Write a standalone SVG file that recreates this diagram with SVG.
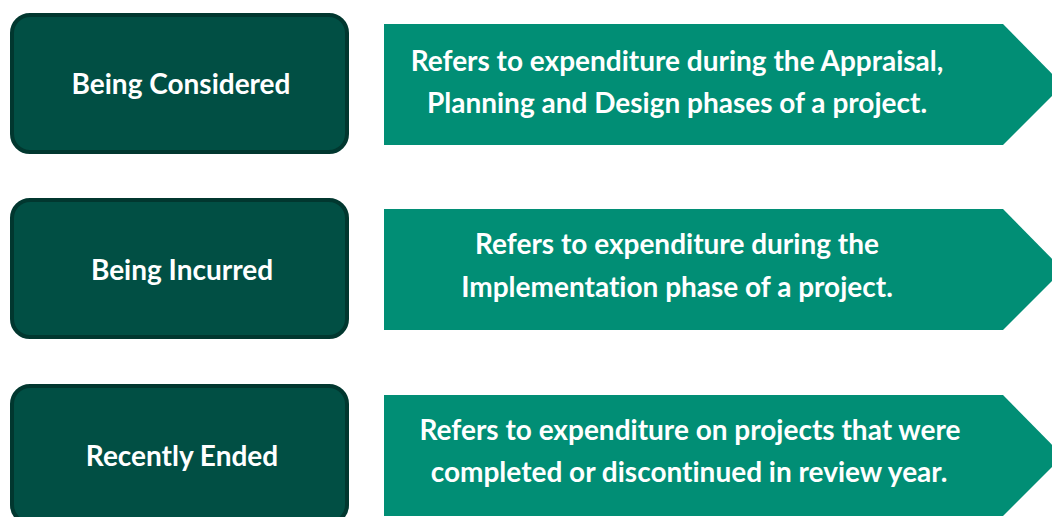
<svg xmlns="http://www.w3.org/2000/svg" width="1052" height="517" viewBox="0 0 1052 517">
<style>
.box{fill:#014f44;stroke:#01372f;stroke-width:4}
.arr{fill:#018e75}
.t{font-family:Lato,"Open Sans",sans-serif;font-weight:bold;font-size:28px;fill:#ffffff;text-anchor:middle;font-variant-ligatures:none}
</style>
<rect width="1052" height="517" fill="#ffffff"/>
<g id="n1">
<rect class="box" x="12" y="15" width="335" height="137" rx="18"/>
<text class="t" x="181" y="94">Being Considered</text>
</g>
<g id="d1">
<polygon class="arr" points="384,24 1003,24 1063,85 1003,145 384,145"/>
<text class="t" x="677" y="71">Refers to expenditure during the Appraisal,</text>
<text class="t" x="677" y="113">Planning and Design phases of a project.</text>
</g>
<g id="n2">
<rect class="box" x="12" y="200" width="335" height="137" rx="18"/>
<text class="t" x="182" y="280">Being Incurred</text>
</g>
<g id="d2">
<polygon class="arr" points="384,209 1003,209 1063,270 1003,330 384,330"/>
<text class="t" x="677" y="254">Refers to expenditure during the</text>
<text class="t" x="677" y="297">Implementation phase of a project.</text>
</g>
<g id="n3">
<rect class="box" x="12" y="386" width="335" height="137" rx="18"/>
<text class="t" x="182" y="466">Recently Ended</text>
</g>
<g id="d3">
<polygon class="arr" points="384,395 1003,395 1063,456 1003,516 384,516"/>
<text class="t" x="690" y="440">Refers to expenditure on projects that were</text>
<text class="t" x="689" y="482">completed or discontinued in review year.</text>
</g>
<g id="connectors"></g>
</svg>
